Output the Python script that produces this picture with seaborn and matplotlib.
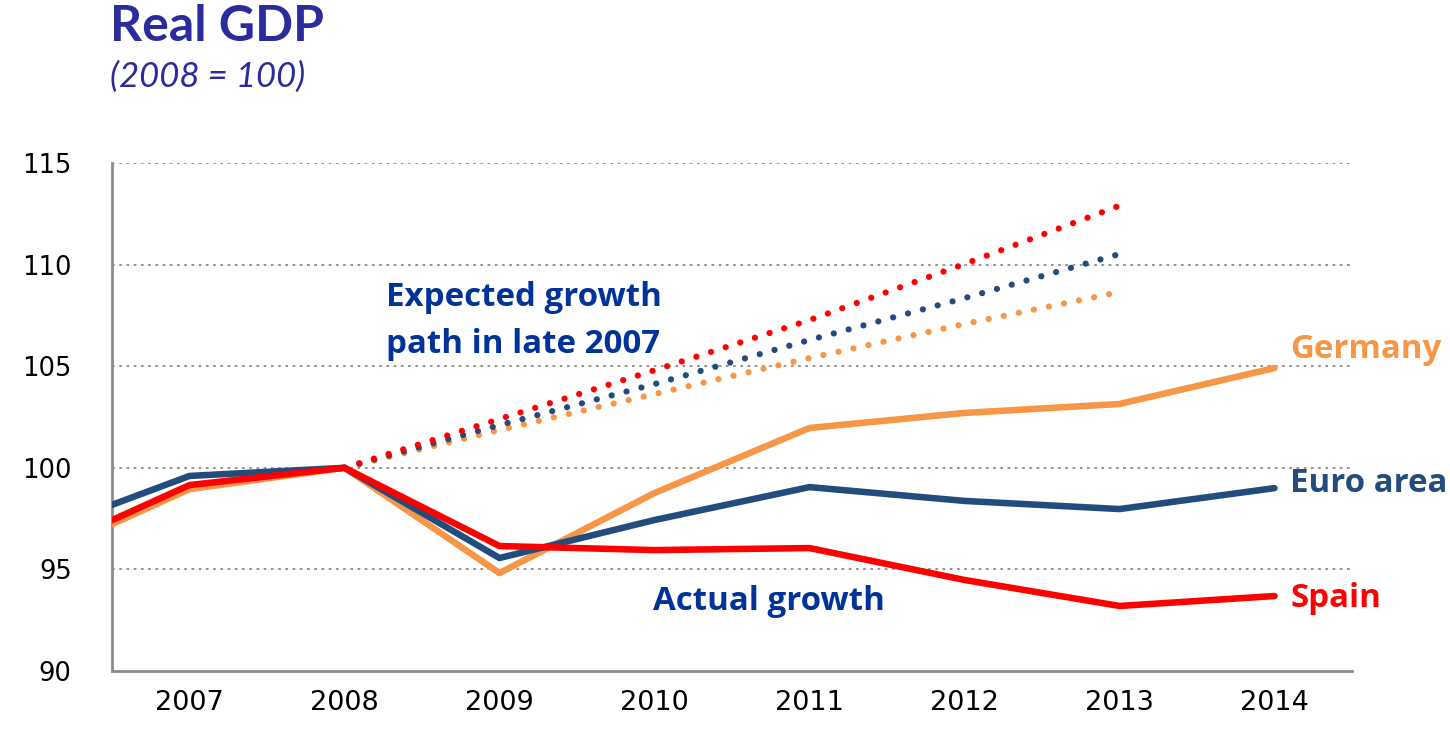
import matplotlib
matplotlib.use("Agg")
import matplotlib.pyplot as plt
import seaborn as sns
import pandas as pd
import numpy as np

# ---- data ----
years = [2006, 2007, 2008, 2009, 2010, 2011, 2012, 2013, 2014]
germany = [95.5, 98.95, 100.0, 94.82, 98.76, 101.96, 102.7, 103.14, 104.91]
euro_area = [96.75, 99.6, 100.0, 95.56, 97.43, 99.05, 98.37, 97.97, 99.0]
spain = [95.7, 99.15, 100.0, 96.15, 95.95, 96.05, 94.48, 93.2, 93.69]

exp_years = [2008, 2009, 2010, 2011, 2012, 2013]
exp_germany = [100.0, 101.86, 103.63, 105.4, 107.08, 108.65]
exp_euro = [100.0, 102.1, 104.12, 106.29, 108.35, 110.52]
exp_spain = [100.0, 102.4, 104.8, 107.27, 110.03, 112.9]

series_names = ["Germany", "Euro area", "Spain"]
colors = {"Germany": "#F79646", "Euro area": "#234C7E", "Spain": "#FF0000"}
tick_years = list(range(2007, 2015))
y_ticks = [90, 95, 100, 105, 110, 115]

actual = pd.DataFrame({
    "year": years * 3,
    "value": germany + euro_area + spain,
    "series": sum([[n] * len(years) for n in series_names], []),
})
expected = pd.DataFrame({
    "year": exp_years * 3,
    "value": exp_germany + exp_euro + exp_spain,
    "series": sum([[n] * len(exp_years) for n in series_names], []),
})

sns.set_theme(style="white")
plt.rcParams["font.family"] = ["DejaVu Sans"]

fig = plt.figure(figsize=(14.5, 7.29), dpi=100)
ax = fig.add_axes([112 / 1450, 1 - 671 / 729, (1352 - 112) / 1450, (671 - 163) / 729])

# expected (dotted)
for name in series_names:
    sub = expected[expected.series == name]
    sns.lineplot(data=sub, x="year", y="value", ax=ax, color=colors[name],
                 linewidth=4.5, legend=False, zorder=3)
for ln in ax.get_lines():
    ln.set_dashes((0.01, 2.45))
    ln.set_dash_capstyle("round")

# actual (solid)
for name in series_names:
    sub = actual[actual.series == name]
    sns.lineplot(data=sub, x="year", y="value", ax=ax, color=colors[name],
                 linewidth=4.7, legend=False, zorder=4)
for ln in ax.get_lines()[3:]:
    ln.set_solid_capstyle("round")

ax.set_xlim(2006.5, 2014.5)
ax.set_ylim(90, 115)
ax.set_xlabel("")
ax.set_ylabel("")

# ticks
ax.set_yticks(y_ticks)
ax.set_yticklabels([str(v) for v in y_ticks])
ax.set_xticks(tick_years)
ax.set_xticklabels([str(y) for y in tick_years])
ax.set_xticks(np.arange(2006.5, 2015.0, 1.0), minor=True)
ax.tick_params(axis="x", which="major", length=0, labelsize=19.5, pad=14, colors="black")
ax.tick_params(axis="x", which="minor", length=8, width=2, color="#8C8C8C", direction="out")
ax.tick_params(axis="y", which="major", length=9, width=1.5, color="#8C8C8C",
               labelsize=18.5, pad=20, direction="out")
for lbl in ax.get_xticklabels() + ax.get_yticklabels():
    lbl.set_color("black")

# grid
for yv in [95, 100, 105, 110, 115]:
    ax.axhline(yv, color="#8C8C8C", linewidth=1.3, linestyle=(0, (1.5, 2.5)), zorder=1)

for side in ["top", "right"]:
    ax.spines[side].set_visible(False)
for side in ["left", "bottom"]:
    ax.spines[side].set_color("#8C8C8C")
    ax.spines[side].set_linewidth(2)

# annotations
lab_font = ["Open Sans", "DejaVu Sans"]
txt_blue = "#003399"
fs = 23.8
ax.text(2008.27, 107.96, "Expected growth", color=txt_blue, family=lab_font,
        fontsize=fs, fontweight="bold", ha="left", va="baseline")
ax.text(2008.27, 105.65, "path in late 2007", color=txt_blue, family=lab_font,
        fontsize=fs, fontweight="bold", ha="left", va="baseline")
ax.text(2009.99, 93.0, "Actual growth", color=txt_blue, family=lab_font, fontsize=fs,
        fontweight="bold", ha="left", va="baseline")
ax.text(2014.1, 105.4, "Germany", color=colors["Germany"], family=lab_font, fontsize=fs,
        fontweight="bold", ha="left", va="baseline", clip_on=False)
ax.text(2014.1, 98.81, "Euro area", color=colors["Euro area"], family=lab_font, fontsize=fs,
        fontweight="bold", ha="left", va="baseline", clip_on=False)
ax.text(2014.1, 93.15, "Spain", color=colors["Spain"], family=lab_font, fontsize=fs,
        fontweight="bold", ha="left", va="baseline", clip_on=False)

# title
title_font = ["Lato", "DejaVu Sans"]
fig.text(110 / 1450, 1 - 41 / 729, "Real GDP", color="#2B2B9B", fontsize=36,
         fontweight="bold", ha="left", va="baseline", family=title_font)
fig.text(110 / 1450, 1 - 87 / 729, "(2008 = 100)", color="#2B2B9B", fontsize=25,
         fontstyle="italic", ha="left", va="baseline", family=title_font)

fig.savefig("out.png", dpi=100, facecolor="white")
